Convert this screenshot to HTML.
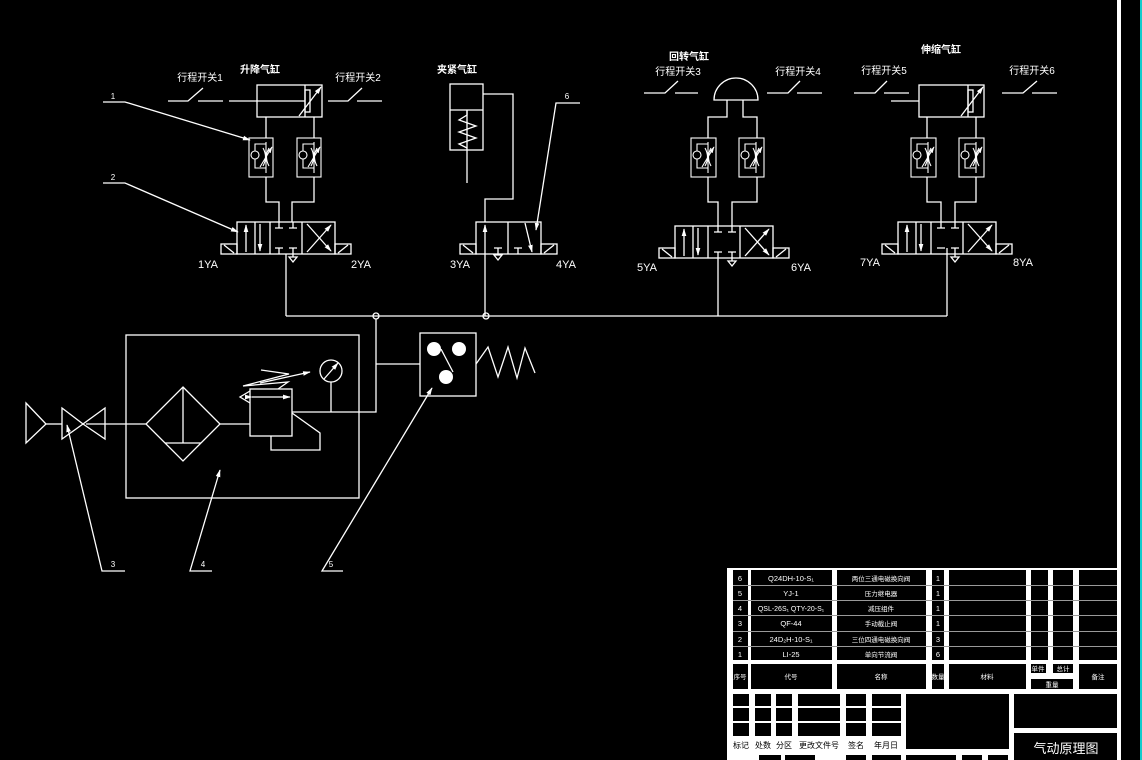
<!DOCTYPE html>
<html><head><meta charset="utf-8"><style>
html,body{margin:0;padding:0;background:#000;width:1142px;height:760px;overflow:hidden}
svg{display:block}
text{font-family:"Liberation Sans","Noto Sans CJK SC",sans-serif;fill:#fff}
</style></head><body>
<svg width="1142" height="760" viewBox="0 0 1142 760" xmlns="http://www.w3.org/2000/svg">
<defs>
<marker id="ar" viewBox="0 0 10 10" refX="9" refY="5" markerWidth="6" markerHeight="6" orient="auto"><path d="M0,2 L10,5 L0,8 z" fill="#fff"/></marker>
</defs>
<rect width="1142" height="760" fill="#000"/>
<rect x="1117" y="0" width="4" height="760" fill="#fff"/>
<rect x="1140" y="0" width="2" height="760" fill="#1cc"/>

<g stroke="#fff" stroke-width="1.3" fill="none">
<!-- ===== Lift cylinder ===== -->
<rect x="257" y="85" width="65" height="32"/>
<line x1="305" y1="85" x2="305" y2="117"/>
<rect x="305" y="90" width="5" height="22"/>
<line x1="229" y1="101" x2="305" y2="101"/>
<line x1="299" y1="116" x2="321" y2="87" marker-end="url(#ar)"/>
<!-- switches 1,2 -->
<polyline points="168,101 188,101 203,88"/><line x1="198" y1="101" x2="223" y2="101"/>
<polyline points="328,101 348,101 362,88"/><line x1="357" y1="101" x2="382" y2="101"/>
<!-- ports -->
<polyline points="266,117 266,138"/><polyline points="314,117 314,138"/>
<polyline points="266,177 266,202 279,202 279,222"/>
<polyline points="314,177 314,202 292,202 292,222"/>

<!-- ===== Clamp cylinder ===== -->
<rect x="450" y="84" width="33" height="66"/>
<line x1="450" y1="110" x2="483" y2="110"/>
<polyline points="467,110 467,115 459,120 476,126 459,132 476,138 459,144 467,148"/>
<line x1="467" y1="110" x2="467" y2="183"/>
<polyline points="483,94 513,94 513,199 485,199 485,222"/>

<!-- ===== Rotary cylinder ===== -->
<path d="M714,100 A22,22 0 0 1 758,100 Z"/>
<polyline points="727,100 727,117 708,117 708,138"/>
<polyline points="743,100 743,117 757,117 757,138"/>
<polyline points="708,177 708,202 718,202 718,226"/>
<polyline points="757,177 757,202 732,202 732,226"/>
<polyline points="644,93 665,93 678,81"/><line x1="675" y1="93" x2="698" y2="93"/>
<polyline points="767,93 788,93 800,81"/><line x1="797" y1="93" x2="822" y2="93"/>

<!-- ===== Extend cylinder ===== -->
<rect x="919" y="85" width="65" height="32"/>
<line x1="968" y1="85" x2="968" y2="117"/>
<rect x="968" y="90" width="5" height="22"/>
<line x1="891" y1="101" x2="919" y2="101"/>
<line x1="961" y1="116" x2="983" y2="87" marker-end="url(#ar)"/>
<polyline points="854,93 875,93 887,81"/><line x1="884" y1="93" x2="909" y2="93"/>
<polyline points="1002,93 1023,93 1037,81"/><line x1="1032" y1="93" x2="1057" y2="93"/>
<line x1="927" y1="117" x2="927" y2="138"/><line x1="976" y1="117" x2="976" y2="138"/>
<polyline points="927,177 927,202 941,202 941,222"/>
<polyline points="976,177 976,202 955,202 955,222"/>

<!-- ===== Main line ===== -->
<line x1="286" y1="254" x2="286" y2="316"/>
<line x1="485" y1="254" x2="485" y2="316"/>
<line x1="718" y1="258" x2="718" y2="316"/>
<line x1="947" y1="254" x2="947" y2="316"/>
<line x1="286" y1="316" x2="947" y2="316"/>
<circle cx="376" cy="316" r="3"/><circle cx="486" cy="316" r="3"/>
<polyline points="376,319 376,412 292,412"/>
<line x1="376" y1="364" x2="420" y2="364"/>

<!-- pressure relay -->
<rect x="420" y="333" width="56" height="63"/>
<line x1="441" y1="349" x2="453" y2="372"/>
<polyline points="476,364 488,347 498,377 508,347 517,378 525,348 535,373"/>

<!-- FRL -->
<rect x="126" y="335" width="233" height="163"/>
<polygon points="183,387 220,424 183,461 146,424"/>
<line x1="183" y1="387" x2="183" y2="443"/><line x1="165" y1="443" x2="201" y2="443"/>
<line x1="86" y1="424" x2="146" y2="424"/>
<line x1="220" y1="424" x2="250" y2="424"/>
<rect x="250" y="389" width="42" height="47"/>
<line x1="252" y1="397" x2="290" y2="397" marker-end="url(#ar)" marker-start="url(#ar)"/>
<polyline points="261,370 289,374 243,386 288,382 278,389"/>
<line x1="260" y1="383" x2="310" y2="372" marker-end="url(#ar)"/>
<polyline points="250,391 240,397 250,403"/>
<circle cx="331" cy="371" r="11"/>
<line x1="324" y1="379" x2="338" y2="363" marker-end="url(#ar)"/>
<line x1="331" y1="382" x2="331" y2="412"/>
<polyline points="292,413 320,433 320,450 271,450 271,436"/>
<!-- source & stop valve -->
<polygon points="26,403 46,424 26,443"/>
<line x1="46" y1="424" x2="62" y2="424"/>
<polygon points="62,408 83,424 62,439"/>
<polygon points="105,408 83,424 105,439"/>

<!-- leaders -->
<polyline points="103,102 125,102 250,140" marker-end="url(#ar)"/>
<polyline points="103,183 125,183 238,232" marker-end="url(#ar)"/>
<polyline points="580,103 556,103 536,230" marker-end="url(#ar)"/>
<polyline points="125,571 102,571 67,425" marker-end="url(#ar)"/>
<polyline points="212,571 190,571 220,470" marker-end="url(#ar)"/>
<polyline points="343,571 322,571 432,388" marker-end="url(#ar)"/>
</g>
<g fill="#fff">
<circle cx="434" cy="349" r="7"/><circle cx="459" cy="349" r="7"/><circle cx="446" cy="377" r="7"/>
</g>

<!-- flow valves -->
<g stroke="#fff" stroke-width="1.1" fill="none">
<g transform="translate(249,138)"><rect x="0" y="0" width="24" height="39"/><line x1="17" y1="4" x2="17" y2="35"/><polyline points="17,6 6,6 6,13"/><circle cx="6" cy="17" r="4"/><polyline points="6,21 6,30 17,30"/><path d="M14,10 Q19,19 14,28 M20,10 Q15,19 20,28"/><line x1="11" y1="29" x2="23" y2="9" marker-end="url(#ar)"/></g>
<g transform="translate(297,138)"><rect x="0" y="0" width="24" height="39"/><line x1="17" y1="4" x2="17" y2="35"/><polyline points="17,6 6,6 6,13"/><circle cx="6" cy="17" r="4"/><polyline points="6,21 6,30 17,30"/><path d="M14,10 Q19,19 14,28 M20,10 Q15,19 20,28"/><line x1="11" y1="29" x2="23" y2="9" marker-end="url(#ar)"/></g>
<g transform="translate(691,138)"><rect x="0" y="0" width="25" height="39"/><line x1="17" y1="4" x2="17" y2="35"/><polyline points="17,6 6,6 6,13"/><circle cx="6" cy="17" r="4"/><polyline points="6,21 6,30 17,30"/><path d="M14,10 Q19,19 14,28 M20,10 Q15,19 20,28"/><line x1="11" y1="29" x2="23" y2="9" marker-end="url(#ar)"/></g>
<g transform="translate(739,138)"><rect x="0" y="0" width="25" height="39"/><line x1="17" y1="4" x2="17" y2="35"/><polyline points="17,6 6,6 6,13"/><circle cx="6" cy="17" r="4"/><polyline points="6,21 6,30 17,30"/><path d="M14,10 Q19,19 14,28 M20,10 Q15,19 20,28"/><line x1="11" y1="29" x2="23" y2="9" marker-end="url(#ar)"/></g>
<g transform="translate(911,138)"><rect x="0" y="0" width="25" height="39"/><line x1="17" y1="4" x2="17" y2="35"/><polyline points="17,6 6,6 6,13"/><circle cx="6" cy="17" r="4"/><polyline points="6,21 6,30 17,30"/><path d="M14,10 Q19,19 14,28 M20,10 Q15,19 20,28"/><line x1="11" y1="29" x2="23" y2="9" marker-end="url(#ar)"/></g>
<g transform="translate(959,138)"><rect x="0" y="0" width="25" height="39"/><line x1="17" y1="4" x2="17" y2="35"/><polyline points="17,6 6,6 6,13"/><circle cx="6" cy="17" r="4"/><polyline points="6,21 6,30 17,30"/><path d="M14,10 Q19,19 14,28 M20,10 Q15,19 20,28"/><line x1="11" y1="29" x2="23" y2="9" marker-end="url(#ar)"/></g>
</g>

<!-- 3-position valves -->
<g stroke="#fff" stroke-width="1.3" fill="none">
<g transform="translate(237,222)"><rect x="0" y="0" width="98" height="32"/><line x1="33" y1="0" x2="33" y2="32"/><line x1="65" y1="0" x2="65" y2="32"/><line x1="9" y1="30" x2="9" y2="3" marker-end="url(#ar)"/><line x1="18" y1="0" x2="18" y2="32"/><line x1="23" y1="2" x2="23" y2="29" marker-end="url(#ar)"/><path d="M42,0 V6 M38,6 H46 M56,0 V6 M52,6 H60 M38,26 H46 M42,26 V32 M52,26 H60 M56,26 V35"/><polygon points="52,35 60,35 56,40"/><line x1="70" y1="2" x2="94" y2="29" marker-end="url(#ar)"/><line x1="70" y1="30" x2="94" y2="3" marker-end="url(#ar)"/><rect x="-16" y="22" width="16" height="10"/><line x1="-13" y1="23" x2="-3" y2="31"/><rect x="98" y="22" width="16" height="10"/><line x1="101" y1="31" x2="111" y2="23"/></g>
<g transform="translate(675,226)"><rect x="0" y="0" width="98" height="32"/><line x1="33" y1="0" x2="33" y2="32"/><line x1="65" y1="0" x2="65" y2="32"/><line x1="9" y1="30" x2="9" y2="3" marker-end="url(#ar)"/><line x1="18" y1="0" x2="18" y2="32"/><line x1="23" y1="2" x2="23" y2="29" marker-end="url(#ar)"/><path d="M43,0 V6 M39,6 H47 M57,0 V6 M53,6 H61 M39,26 H47 M43,26 V32 M53,26 H61 M57,26 V35"/><polygon points="53,35 61,35 57,40"/><line x1="70" y1="30" x2="94" y2="3" marker-end="url(#ar)"/><line x1="70" y1="2" x2="94" y2="29" marker-end="url(#ar)"/><rect x="-16" y="22" width="16" height="10"/><line x1="-13" y1="23" x2="-3" y2="31"/><rect x="98" y="22" width="16" height="10"/><line x1="101" y1="31" x2="111" y2="23"/></g>
<g transform="translate(898,222)"><rect x="0" y="0" width="98" height="32"/><line x1="33" y1="0" x2="33" y2="32"/><line x1="65" y1="0" x2="65" y2="32"/><line x1="9" y1="30" x2="9" y2="3" marker-end="url(#ar)"/><line x1="18" y1="0" x2="18" y2="32"/><line x1="23" y1="2" x2="23" y2="29" marker-end="url(#ar)"/><path d="M43,0 V6 M39,6 H47 M57,0 V6 M53,6 H61 M39,26 H47 M49,26 V32 M53,26 H61 M57,26 V35"/><polygon points="53,35 61,35 57,40"/><line x1="70" y1="30" x2="94" y2="3" marker-end="url(#ar)"/><line x1="70" y1="2" x2="94" y2="29" marker-end="url(#ar)"/><rect x="-16" y="22" width="16" height="10"/><line x1="-13" y1="23" x2="-3" y2="31"/><rect x="98" y="22" width="16" height="10"/><line x1="101" y1="31" x2="111" y2="23"/></g>
<!-- 2-position valve -->
<g transform="translate(476,222)"><rect x="0" y="0" width="65" height="32"/><line x1="32" y1="0" x2="32" y2="32"/><line x1="9" y1="32" x2="9" y2="3" marker-end="url(#ar)"/><path d="M18,26 H26 M22,26 V32 M38,26 H46 M42,26 V32"/><polygon points="18,33 26,33 22,38"/><line x1="49" y1="1" x2="56" y2="30" marker-end="url(#ar)"/><rect x="-16" y="22" width="16" height="10"/><line x1="-13" y1="23" x2="-3" y2="31"/><rect x="65" y="22" width="16" height="10"/><line x1="68" y1="31" x2="78" y2="23"/></g>
</g>

<!-- diagram labels -->
<g font-size="10" text-anchor="middle">
<text x="260" y="73" font-weight="bold">升降气缸</text>
<text x="200" y="81">行程开关1</text>
<text x="358" y="81">行程开关2</text>
<text x="457" y="73" font-weight="bold">夹紧气缸</text>
<text x="689" y="60" font-weight="bold">回转气缸</text>
<text x="678" y="75">行程开关3</text>
<text x="798" y="75">行程开关4</text>
<text x="941" y="53" font-weight="bold">伸缩气缸</text>
<text x="884" y="74">行程开关5</text>
<text x="1032" y="74">行程开关6</text>
</g>
<g font-size="11" text-anchor="middle">
<text x="208" y="268">1YA</text><text x="361" y="268">2YA</text>
<text x="460" y="268">3YA</text><text x="566" y="268">4YA</text>
<text x="647" y="271">5YA</text><text x="801" y="271">6YA</text>
<text x="870" y="266">7YA</text><text x="1023" y="266">8YA</text>
</g>
<g font-size="8" text-anchor="middle">
<text x="113" y="99">1</text><text x="113" y="180">2</text><text x="567" y="99">6</text>
<text x="113" y="567">3</text><text x="203" y="567">4</text><text x="331" y="567">5</text>
</g>

<!-- ===== Title block ===== -->
<rect x="727" y="568" width="393" height="192" fill="#fff"/>
<g fill="#000">
<!-- parts rows -->
<g id="rows">
<rect x="733" y="570" width="15" height="15"/><rect x="751" y="570" width="81" height="15"/><rect x="837" y="570" width="89" height="15"/><rect x="932" y="570" width="12" height="15"/><rect x="949" y="570" width="77" height="15"/><rect x="1031" y="570" width="17" height="15"/><rect x="1053" y="570" width="20" height="15"/><rect x="1079" y="570" width="38" height="15"/>
<rect x="733" y="586" width="15" height="14"/><rect x="751" y="586" width="81" height="14"/><rect x="837" y="586" width="89" height="14"/><rect x="932" y="586" width="12" height="14"/><rect x="949" y="586" width="77" height="14"/><rect x="1031" y="586" width="17" height="14"/><rect x="1053" y="586" width="20" height="14"/><rect x="1079" y="586" width="38" height="14"/>
<rect x="733" y="601" width="15" height="14"/><rect x="751" y="601" width="81" height="14"/><rect x="837" y="601" width="89" height="14"/><rect x="932" y="601" width="12" height="14"/><rect x="949" y="601" width="77" height="14"/><rect x="1031" y="601" width="17" height="14"/><rect x="1053" y="601" width="20" height="14"/><rect x="1079" y="601" width="38" height="14"/>
<rect x="733" y="616" width="15" height="15"/><rect x="751" y="616" width="81" height="15"/><rect x="837" y="616" width="89" height="15"/><rect x="932" y="616" width="12" height="15"/><rect x="949" y="616" width="77" height="15"/><rect x="1031" y="616" width="17" height="15"/><rect x="1053" y="616" width="20" height="15"/><rect x="1079" y="616" width="38" height="15"/>
<rect x="733" y="632" width="15" height="14"/><rect x="751" y="632" width="81" height="14"/><rect x="837" y="632" width="89" height="14"/><rect x="932" y="632" width="12" height="14"/><rect x="949" y="632" width="77" height="14"/><rect x="1031" y="632" width="17" height="14"/><rect x="1053" y="632" width="20" height="14"/><rect x="1079" y="632" width="38" height="14"/>
<rect x="733" y="647" width="15" height="13"/><rect x="751" y="647" width="81" height="13"/><rect x="837" y="647" width="89" height="13"/><rect x="932" y="647" width="12" height="13"/><rect x="949" y="647" width="77" height="13"/><rect x="1031" y="647" width="17" height="13"/><rect x="1053" y="647" width="20" height="13"/><rect x="1079" y="647" width="38" height="13"/>
</g>
<!-- header row -->
<rect x="733" y="664" width="15" height="25"/><rect x="751" y="664" width="81" height="25"/><rect x="837" y="664" width="89" height="25"/><rect x="932" y="664" width="12" height="25"/><rect x="949" y="664" width="77" height="25"/>
<rect x="1031" y="664" width="15" height="9"/><rect x="1053" y="664" width="20" height="9"/><rect x="1031" y="679" width="42" height="10"/><rect x="1079" y="664" width="38" height="25"/>
<!-- lower block -->
<rect x="733" y="694" width="16" height="12"/><rect x="755" y="694" width="16" height="12"/><rect x="776" y="694" width="16" height="12"/><rect x="798" y="694" width="42" height="12"/><rect x="846" y="694" width="20" height="12"/><rect x="872" y="694" width="29" height="12"/>
<rect x="733" y="708" width="16" height="13"/><rect x="755" y="708" width="16" height="13"/><rect x="776" y="708" width="16" height="13"/><rect x="798" y="708" width="42" height="13"/><rect x="846" y="708" width="20" height="13"/><rect x="872" y="708" width="29" height="13"/>
<rect x="733" y="723" width="16" height="13"/><rect x="755" y="723" width="16" height="13"/><rect x="776" y="723" width="16" height="13"/><rect x="798" y="723" width="42" height="13"/><rect x="846" y="723" width="20" height="13"/><rect x="872" y="723" width="29" height="13"/>
<rect x="906" y="694" width="103" height="55"/>
<rect x="1014" y="694" width="103" height="34"/>
<rect x="1014" y="733" width="103" height="27"/>
<rect x="759" y="755" width="22" height="5"/><rect x="785" y="755" width="30" height="5"/><rect x="846" y="755" width="20" height="5"/><rect x="872" y="755" width="29" height="5"/><rect x="906" y="755" width="50" height="5"/><rect x="962" y="755" width="20" height="5"/><rect x="988" y="755" width="20" height="5"/>
</g>
<g stroke="#999" stroke-width="1">
<line x1="733" y1="585.5" x2="1117" y2="585.5"/><line x1="733" y1="600.5" x2="1117" y2="600.5"/><line x1="733" y1="615.5" x2="1117" y2="615.5"/><line x1="733" y1="631.5" x2="1117" y2="631.5"/><line x1="733" y1="646.5" x2="1117" y2="646.5"/>
</g>
<g font-size="7.5" text-anchor="middle">
<text x="740" y="581">6</text><text x="791" y="581">Q24DH-10-S₁</text><text x="881" y="581" font-size="6.5">两位三通电磁换向阀</text><text x="938" y="581">1</text>
<text x="740" y="596">5</text><text x="791" y="596">YJ-1</text><text x="881" y="596" font-size="6.5">压力继电器</text><text x="938" y="596">1</text>
<text x="740" y="611">4</text><text x="791" y="611" font-size="7">QSL-26S₁ QTY-20-S₁</text><text x="881" y="611" font-size="6.5">减压组件</text><text x="938" y="611">1</text>
<text x="740" y="626">3</text><text x="791" y="626">QF-44</text><text x="881" y="626" font-size="6.5">手动截止阀</text><text x="938" y="626">1</text>
<text x="740" y="642">2</text><text x="791" y="642">24D₂H-10-S₁</text><text x="881" y="642" font-size="6.5">三位四通电磁换向阀</text><text x="938" y="642">3</text>
<text x="740" y="657">1</text><text x="791" y="657">LI-25</text><text x="881" y="657" font-size="6.5">单向节流阀</text><text x="938" y="657">6</text>
<g font-size="6.5">
<text x="740" y="679">序号</text><text x="791" y="679">代号</text><text x="881" y="679">名称</text><text x="938" y="679">数量</text><text x="987" y="679">材料</text>
<text x="1038" y="671">单件</text><text x="1063" y="671">总计</text><text x="1052" y="687">重量</text><text x="1098" y="679">备注</text>
</g>
</g>
<g font-size="8" text-anchor="middle" fill="#000">
<text x="741" y="748" style="fill:#000">标记</text><text x="763" y="748" style="fill:#000">处数</text><text x="784" y="748" style="fill:#000">分区</text><text x="819" y="748" style="fill:#000">更改文件号</text><text x="856" y="748" style="fill:#000">签名</text><text x="886" y="748" style="fill:#000">年月日</text>
</g>
<text x="1066" y="753" font-size="13" text-anchor="middle">气动原理图</text>
</svg>
</body></html>
